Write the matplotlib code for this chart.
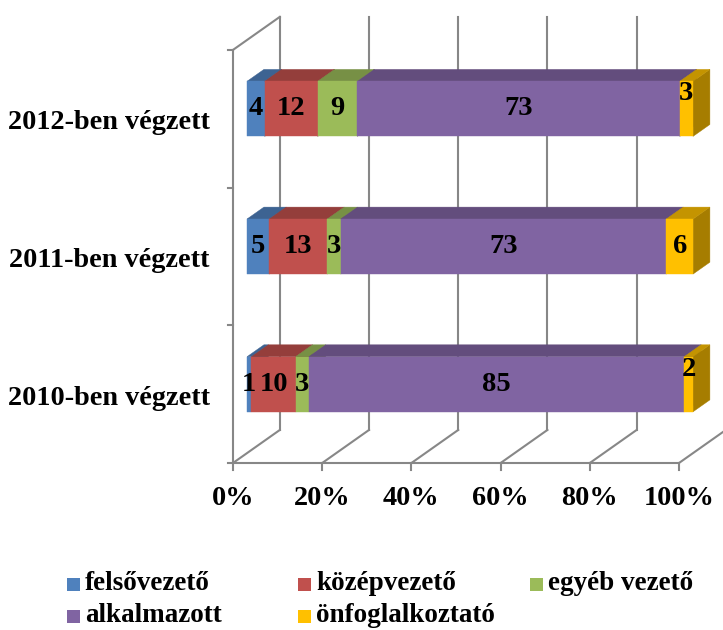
import numpy as np
import matplotlib
matplotlib.use("Agg")
import matplotlib.pyplot as plt
from matplotlib.patches import Polygon, Rectangle
from matplotlib.colors import to_rgb

# data
categories = ["2010-ben végzett", "2011-ben végzett", "2012-ben végzett"]
series = ["felsővezető", "középvezető", "egyéb vezető", "alkalmazott", "önfoglalkoztató"]
felso = [1, 5, 4]
kozep = [10, 13, 12]
egyeb = [3, 3, 9]
alkalmazott = [85, 73, 73]
onfogl = [2, 6, 3]
x_ticks = [0, 20, 40, 60, 80, 100]
x_tick_labels = ["0%", "20%", "40%", "60%", "80%", "100%"]

colors = ["#4F81BD", "#C0504D", "#9BBB59", "#8064A2", "#FFC000"]
grid_col = "#878787"

# oblique "3d" projection (percent, category, depth)
DX, DY = 10.5, 0.24
D0, D1 = 0.30, 0.66
BAR_H = 0.40


def proj(x, y, d):
    return (x + d * DX, y + d * DY)


def shade(c, f):
    r, g, b = to_rgb(c)
    return (r * f, g * f, b * f)


plt.rcParams["font.family"] = ["Liberation Serif", "DejaVu Serif"]
plt.rcParams["font.weight"] = "bold"

fig = plt.figure(figsize=(7.23, 6.3), dpi=100)
ax = fig.add_axes([0, 0, 1, 1])
px_x, px_y = 4.46, 137.7
ax.set_xlim(-233 / px_x, (723 - 233) / px_x)
ax.set_ylim((463 - 630) / px_y, 463 / px_y)
ax.axis("off")

lw = 1.5
ncat = len(categories)
# back wall gridlines and floor diagonals
for t in x_ticks:
    ax.plot(*zip(proj(t, 0, 1), proj(t, ncat, 1)), color=grid_col, lw=lw, zorder=1)
    ax.plot(*zip(proj(t, 0, 0), proj(t, 0, 1)), color=grid_col, lw=lw, zorder=1)
    ax.plot([t, t], [0, -0.05], color=grid_col, lw=lw, zorder=1)
# floor front edge
ax.plot([0, 100], [0, 0], color=grid_col, lw=lw, zorder=1)
# left wall
ax.plot([0, 0], [0, ncat], color=grid_col, lw=lw, zorder=1)
ax.plot(*zip(proj(0, ncat, 0), proj(0, ncat, 1)), color=grid_col, lw=lw, zorder=1)
for k in range(ncat + 1):
    ax.plot([-1.2, 0], [k, k], color=grid_col, lw=lw, zorder=1)

# bars
values = np.array([felso, kozep, egyeb, alkalmazott, onfogl], dtype=float)
totals = values.sum(axis=0)
for i, cat in enumerate(categories):
    yc = i + 0.5
    yb, yt = yc - BAR_H / 2, yc + BAR_H / 2
    left = 0.0
    for j in range(len(series)):
        w = values[j, i] / totals[i] * 100
        right = left + w
        c = colors[j]
        side = [proj(right, yb, D0), proj(right, yt, D0), proj(right, yt, D1), proj(right, yb, D1)]
        top = [proj(left, yt, D0), proj(right, yt, D0), proj(right, yt, D1), proj(left, yt, D1)]
        front = [proj(left, yb, D0), proj(right, yb, D0), proj(right, yt, D0), proj(left, yt, D0)]
        ax.add_patch(Polygon(side, closed=True, fc=shade(c, 0.65), ec=shade(c, 0.65), lw=0.3, zorder=2))
        ax.add_patch(Polygon(top, closed=True, fc=shade(c, 0.77), ec=shade(c, 0.77), lw=0.3, zorder=2))
        ax.add_patch(Polygon(front, closed=True, fc=c, ec=c, lw=0.3, zorder=2))
        lx, ly = proj((left + right) / 2, yc, D0)
        if j == len(series) - 1 and w < 4:
            ly += 0.11  # narrow last segment: label sits higher, like in Excel
        ax.text(lx, ly, f"{int(values[j, i])}", ha="center", va="center",
                fontsize=20.5, fontweight="bold", color="black", zorder=5)
        left = right
    ax.text(-5.2, yc - 0.03, cat, ha="right", va="center", fontsize=20.3, fontweight="bold")

# x tick labels
for t, lab in zip(x_ticks, x_tick_labels):
    ax.text(t, -0.255, lab, ha="center", va="center", fontsize=20.3, fontweight="bold")

# legend (equal column widths like the original)
leg_x = [67, 298, 530]
leg_y = [584, 616]
for j, name in enumerate(series):
    r, col = divmod(j, 3)
    x0 = leg_x[col] / 723
    y0 = 1 - leg_y[r] / 630
    fig.patches.append(Rectangle((x0, y0 - 6.5 / 630), 13 / 723, 13 / 630,
                                 transform=fig.transFigure, fc=colors[j], ec="none"))
    fig.text(x0 + 18 / 723, y0, name, ha="left", va="center", fontsize=19.5, fontweight="bold")

fig.savefig("out.png", dpi=100)
